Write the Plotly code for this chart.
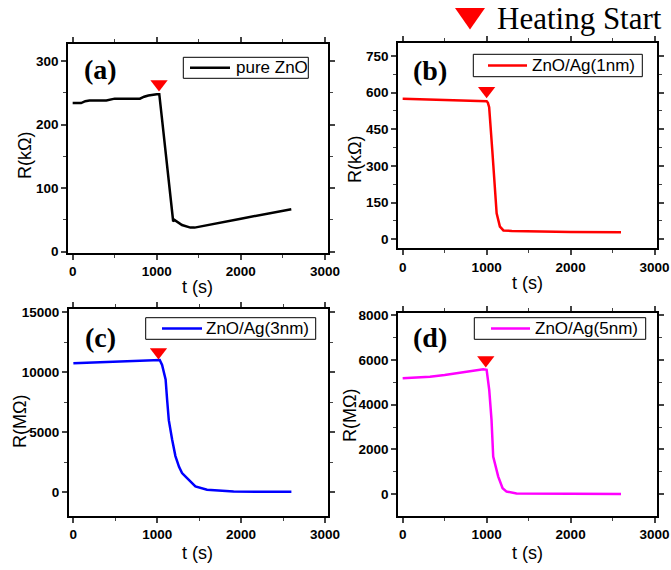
import plotly.graph_objects as go

# ---------------- data ----------------
t_a = [0, 60, 100, 150, 200, 400, 450, 500, 600, 800, 850, 900, 1000, 1030, 1060, 1100, 1150, 1195, 1210, 1230, 1300, 1400, 1450, 2000, 2600]
r_a = [234, 234, 234, 237, 238, 238, 240, 241, 241, 241, 244, 246, 248, 248, 212, 163, 103, 48, 50, 48, 42, 38, 38, 52, 67]

t_b = [0, 200, 400, 600, 800, 1000, 1015, 1030, 1067, 1119, 1158, 1200, 1300, 1600, 2000, 2600]
r_b = [575, 573, 571, 569, 567, 565, 558, 540, 365, 106, 52, 36, 34, 32, 30, 29]

t_c = [0, 500, 1000, 1030, 1058, 1100, 1118, 1138, 1177, 1217, 1260, 1296, 1356, 1455, 1594, 1750, 1911, 2200, 2600]
r_c = [10750, 10880, 11000, 11020, 10600, 9400, 7700, 6000, 4400, 3000, 2100, 1580, 1160, 470, 200, 100, 50, 30, 20]

t_d = [0, 325, 500, 700, 960, 1000, 1031, 1058, 1078, 1138, 1190, 1237, 1356, 2000, 2600]
r_d = [5180, 5250, 5330, 5430, 5580, 5560, 4650, 3320, 1680, 790, 270, 120, 40, 20, 10]

heat_t = [1027, 1000, 1015, 990]
heat_r = [264, 607, 11690, 5995]

names = ["pure ZnO", "ZnO/Ag(1nm)", "ZnO/Ag(3nm)", "ZnO/Ag(5nm)"]
panel_labels = ["(a)", "(b)", "(c)", "(d)"]
y_titles = ["R(kΩ)", "R(kΩ)", "R(MΩ)", "R(MΩ)"]
x_title = "t (s)"
colors = ["#000000", "#FF0000", "#0000FF", "#FF00FF"]

series_t = [t_a, t_b, t_c, t_d]
series_r = [r_a, r_b, r_c, r_d]

# ---------------- layout params (pixels) ----------------
W, H = 671, 570
frames = [(68.3, 328.3, 44, 252.7), (398.3, 656.7, 42.7, 248.3),
          (69, 328.3, 309.3, 516), (398.3, 656.7, 313.3, 516)]
x_ranges = [[-52, 3040], [-52, 3025], [-52, 3040], [-52, 3025]]
y_ranges = [[-1.5, 327], [-37, 804], [-2000, 15250], [-970, 8080]]
y_dticks = [100, 150, 5000, 2000]
# legend boxes: (left, right, top, bottom, line_start, line_end, text_start)
legend_boxes = [(183.3, 308.3, 57.3, 78.3, 190, 230, 234),
                (473.3, 642.3, 54.3, 76.7, 488, 527, 530),
                (145.7, 315.7, 317.7, 339.3, 162, 202, 204),
                (474.3, 645.7, 317.7, 339.3, 491, 530, 533)]
label_pos = [(100, 70), (430, 71), (100, 337), (430, 337)]
ytitle_pos = [(25, 156), (355, 160), (20, 422), (350, 416)]
xtitle_pos = [(197, 287), (527, 283), (197, 553), (527, 553)]

def px(x):
    return x / W

def py(y):
    return 1 - y / H

fig = go.Figure()
layout = dict(width=W, height=H, margin=dict(l=0, r=0, t=0, b=0),
              plot_bgcolor="white", paper_bgcolor="white", showlegend=False)

SANS = "Liberation Sans"
SERIF = "Liberation Serif"
tickfont = dict(family=SANS, size=13.5, color="black", weight="bold")
titlefont = dict(family=SANS, size=18, color="black")

annotations = []
shapes = []
for i in range(4):
    k = "" if i == 0 else str(i + 1)
    l, r, t, b = frames[i]
    fig.add_trace(go.Scatter(x=series_t[i], y=series_r[i], mode="lines", name=names[i],
                             line=dict(color=colors[i], width=2.5),
                             xaxis="x" + k, yaxis="y" + k))
    fig.add_trace(go.Scatter(x=[heat_t[i]], y=[heat_r[i]], mode="markers", name="Heating Start",
                             marker=dict(symbol="triangle-down", size=15, color="#FF0000"),
                             xaxis="x" + k, yaxis="y" + k))
    layout["xaxis" + k] = dict(domain=[px(l), px(r)], anchor="y" + k, range=x_ranges[i],
                               tickvals=[0, 1000, 2000, 3000], ticks="outside", ticklen=5,
                               tickwidth=1.5, showline=True, linewidth=2, linecolor="black",
                               mirror="ticks", showgrid=False, zeroline=False,
                               minor=dict(ticks="outside", dtick=500, ticklen=3, tickwidth=1.2),
                               tickfont=tickfont, automargin=False)
    layout["yaxis" + k] = dict(domain=[py(b), py(t)], anchor="x" + k, range=y_ranges[i],
                               dtick=y_dticks[i], tick0=0, tickformat="d", ticks="outside", ticklen=5,
                               tickwidth=1.5, showline=True, linewidth=2, linecolor="black",
                               mirror="ticks", showgrid=False, zeroline=False,
                               minor=dict(ticks="outside", dtick=y_dticks[i] / 2, ticklen=3, tickwidth=1.2),
                               tickfont=tickfont, automargin=False)
    # axis titles
    yx, yy = ytitle_pos[i]
    annotations.append(dict(text=y_titles[i], x=px(yx), y=py(yy), xref="paper", yref="paper",
                            showarrow=False, textangle=-90, xanchor="center", yanchor="middle",
                            font=titlefont))
    xx, xy = xtitle_pos[i]
    annotations.append(dict(text=x_title, x=px(xx), y=py(xy), xref="paper", yref="paper",
                            showarrow=False, xanchor="center", yanchor="middle", font=titlefont))
    # legend box
    bl, br, bt, bb, ls, le, ts = legend_boxes[i]
    shapes.append(dict(type="rect", xref="paper", yref="paper", x0=px(bl), x1=px(br),
                       y0=py(bb), y1=py(bt), fillcolor="white", line=dict(color="black", width=1)))
    ym = (bt + bb) / 2
    shapes.append(dict(type="line", xref="paper", yref="paper", x0=px(ls), x1=px(le),
                       y0=py(ym), y1=py(ym), line=dict(color=colors[i], width=2.5)))
    annotations.append(dict(text=names[i], x=px(ts), y=py(ym), xref="paper", yref="paper",
                            showarrow=False, xanchor="left", yanchor="middle",
                            font=dict(family=SANS, size=17, color="black")))
    # panel label
    lx, ly = label_pos[i]
    annotations.append(dict(text=panel_labels[i], x=px(lx), y=py(ly), xref="paper", yref="paper",
                            showarrow=False, xanchor="center", yanchor="middle",
                            font=dict(family=SERIF, size=28, color="black", weight="bold")))

annotations.append(dict(text="Heating Start", x=px(495), y=py(19), xref="paper", yref="paper",
                        showarrow=False, xanchor="left", yanchor="middle",
                        font=dict(family=SERIF, size=31, color="black")))
shapes.append(dict(type="path", xref="paper", yref="paper",
                   path=f"M {px(455)} {py(8)} L {px(485)} {py(8)} L {px(470)} {py(29.5)} Z",
                   fillcolor="#FF0000", line=dict(width=0)))
layout["annotations"] = annotations
layout["shapes"] = shapes

fig.update_layout(**layout)
fig.write_html("out.html", config={"displayModeBar": False},
               post_script="document.body.style.margin='0px';document.body.style.overflow='hidden';")
